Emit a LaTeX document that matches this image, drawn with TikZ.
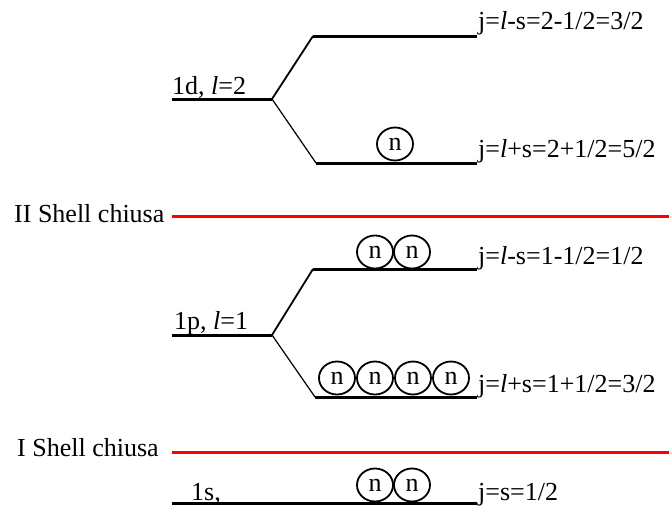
\documentclass[tikz,border=0pt]{standalone}
\usepackage{fontspec}
\setmainfont{Liberation Serif}
\usetikzlibrary{shapes.geometric}
\tikzset{
  levelline/.style={line width=3pt},
  splitline/.style={line width=1.8pt},
  shellline/.style={red, line width=3pt},
  nuc/.style={draw, ellipse, line width=1.8pt, minimum width=36pt, minimum height=33pt, inner sep=0pt, font=\fontsize{26}{28}\selectfont},
  lbl/.style={anchor=base west, inner sep=0pt, font=\fontsize{26}{30}\selectfont}
}
\begin{document}
\begin{tikzpicture}[x=1pt,y=-1pt]
\useasboundingbox (0,0) rectangle (669,506);
% 1d
\coordinate (d0) at (172,99);
\coordinate (ds) at (272,99);
\coordinate (dua) at (313,36);
\coordinate (dub) at (477,36);
\coordinate (dla) at (316,163);
\coordinate (dlb) at (477,163);
\draw[levelline] (d0) -- (ds);
\draw[splitline] (ds) -- (dua);
\draw[splitline, line width=1.2pt] (ds) -- (dla);
\draw[levelline] (dua) -- (dub);
\draw[levelline] (dla) -- (dlb);
\node[lbl] (dlab) at (172,94) {1d, \textit{l}=2};
\node[lbl] (dj1) at (478,29) {j=\textit{l}-s=2-1/2=3/2};
\node[lbl] (dj2) at (478,157) {j=\textit{l}+s=2+1/2=5/2};
\node[nuc] (dn1) at (395,144) {n};
% II shell
\node[lbl] (s2) at (14,222) {II Shell chiusa};
\coordinate (s2a) at (172,216);
\coordinate (s2b) at (669,216);
\draw[shellline] (s2a) -- (s2b);
% 1p
\coordinate (p0) at (172,335);
\coordinate (ps) at (272,335);
\coordinate (pua) at (313,269);
\coordinate (pub) at (477,269);
\coordinate (pla) at (315,397);
\coordinate (plb) at (477,397);
\draw[levelline] (p0) -- (ps);
\draw[splitline] (ps) -- (pua);
\draw[splitline, line width=1.2pt] (ps) -- (pla);
\draw[levelline] (pua) -- (pub);
\draw[levelline] (pla) -- (plb);
\node[lbl] (plab) at (174,329) {1p, \textit{l}=1};
\node[lbl] (pj1) at (478,264) {j=\textit{l}-s=1-1/2=1/2};
\node[lbl] (pj2) at (478,392) {j=\textit{l}+s=1+1/2=3/2};
\node[nuc] (pn1) at (375,252) {n};
\node[nuc] (pn2) at (412,252) {n};
\node[nuc] (pn3) at (337,378) {n};
\node[nuc] (pn4) at (375,378) {n};
\node[nuc] (pn5) at (413,378) {n};
\node[nuc] (pn6) at (451,378) {n};
% I shell
\node[lbl] (s1) at (17,456) {I Shell chiusa};
\coordinate (s1a) at (172,452);
\coordinate (s1b) at (669,452);
\draw[shellline] (s1a) -- (s1b);
% 1s
\coordinate (s0) at (172,503);
\coordinate (s0b) at (477,503);
\draw[levelline] (s0) -- (s0b);
\node[lbl] (slab) at (191,500) {1s,};
\node[lbl] (sj) at (478,500) {j=s=1/2};
\node[nuc] (sn1) at (375,485) {n};
\node[nuc] (sn2) at (412,485) {n};
\end{tikzpicture}
\end{document}
